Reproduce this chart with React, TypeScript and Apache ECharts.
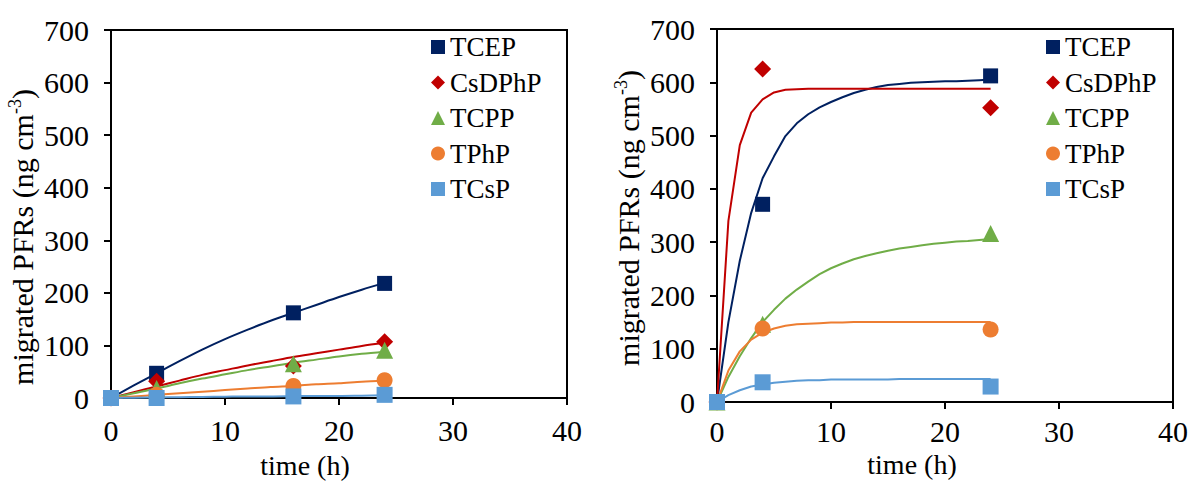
import React, { useEffect, useRef } from "react";
import * as echarts from "echarts";

const names = ["TCEP", "CsDPhP", "TCPP", "TPhP", "TCsP"];
const colors = ["#002060", "#C00000", "#70AD47", "#ED7D31", "#5B9BD5"];
const symbols = ["rect", "diamond", "triangle", "circle", "rect"];
const symbolSizes = [15, 17, 17, 16, 16];

// Left panel: measured values
const leftTimes = [0, 4, 16, 24];
const leftTCEP = [0, 47, 162, 218];
const leftCsDPhP = [0, 32, 61, 107];
const leftTCPP = [-2, 18, 65, 91];
const leftTPhP = [0, 6, 23, 34];
const leftTCsP = [0, 0, 3, 6];

// Left panel: fitted curves
const leftFitTimes = [0, 2, 4, 6, 8, 10, 12, 14, 16, 18, 20, 22, 24];
const leftFitTCEP = [0, 24, 47, 70, 92, 112, 130, 147, 162, 177, 192, 206, 219];
const leftFitCsDPhP = [0, 11, 22, 33, 44, 53, 62, 70, 78, 85, 92, 99, 105];
const leftFitTCPP = [0, 9, 18, 28, 37, 45, 53, 60, 67, 73, 79, 84, 88];
const leftFitTPhP = [0, 3, 6, 9, 12, 15, 18, 21, 23, 26, 28, 31, 33];
const leftFitTCsP = [0, 0.5, 1, 1.5, 2, 2.5, 3, 3, 3.5, 4, 4, 4.5, 5];

// Right panel: measured values
const rightTimes = [0, 4, 24];
const rightTCEP = [0, 371, 612];
const rightCsDPhP = [0, 625, 552];
const rightTCPP = [0, 146, 316];
const rightTPhP = [0, 138, 136];
const rightTCsP = [0, 37, 29];

// Right panel: fitted curves (hourly)
const rightFitTimes = [0, 1, 2, 3, 4, 5, 6, 7, 8, 9, 10, 11, 12, 13, 14, 15, 16, 17, 18, 19, 20, 21, 22, 23, 24];
const rightFitTCEP = [0, 150, 265, 355, 420, 461, 499, 523, 540, 553, 563, 572, 580, 586, 591, 595, 597, 599, 600, 601, 602, 602, 603, 604, 605];
const rightFitCsDPhP = [0, 340, 482, 543, 568, 581, 586, 587, 588, 588, 588, 588, 588, 588, 588, 588, 588, 588, 588, 588, 588, 588, 588, 588, 588];
const rightFitTCPP = [0, 47, 86, 120, 150, 173, 194, 211, 226, 240, 251, 260, 268, 274, 279, 284, 288, 291, 294, 297, 299, 301, 302, 304, 306];
const rightFitTPhP = [0, 59, 95, 117, 130, 138, 143, 146, 147, 148, 149, 149, 150, 150, 150, 150, 150, 150, 150, 150, 150, 150, 150, 150, 150];
const rightFitTCsP = [0, 13, 22, 29, 33, 36, 38, 40, 41, 41, 42, 42, 42, 42, 42, 42, 43, 43, 43, 43, 43, 43, 43, 43, 43];

const leftPts = [leftTCEP, leftCsDPhP, leftTCPP, leftTPhP, leftTCsP];
const leftFits = [leftFitTCEP, leftFitCsDPhP, leftFitTCPP, leftFitTPhP, leftFitTCsP];
const rightPts = [rightTCEP, rightCsDPhP, rightTCPP, rightTPhP, rightTCsP];
const rightFits = [rightFitTCEP, rightFitCsDPhP, rightFitTCPP, rightFitTPhP, rightFitTCsP];

const FONT = "Liberation Serif";

function zip(xs: number[], ys: number[]) {
  return xs.map((x, i) => [x, ys[i]]);
}

export default function App() {
  const ref = useRef<HTMLDivElement>(null);
  useEffect(() => {
    document.body.style.margin = "0";
    if (!ref.current) return;
    const chart = echarts.init(ref.current, undefined, { renderer: "svg" });

    const grids = [
      { left: 111, top: 30, width: 456, height: 368 },
      { left: 717, top: 29, width: 456, height: 373 },
    ].map((g) => ({ ...g, show: true, borderColor: "#000", borderWidth: 2, backgroundColor: "transparent" }));

    const axisCommon = {
      axisLine: { show: true, onZero: false, lineStyle: { color: "#000", width: 2 } },
      axisTick: { show: true, inside: false, length: 7, lineStyle: { color: "#000", width: 2 } },
      splitLine: { show: false },
    };

    const xAxes = [0, 1].map((i) => ({
      type: "value",
      gridIndex: i,
      min: 0,
      max: 40,
      interval: 10,
      ...axisCommon,
      axisLabel: { color: "#000", fontFamily: FONT, fontSize: 30, margin: i === 0 ? 17 : 14 },
    }));
    const yAxes = [0, 1].map((i) => ({
      type: "value",
      gridIndex: i,
      min: 0,
      max: 700,
      interval: 100,
      ...axisCommon,
      axisLabel: { color: "#000", fontFamily: FONT, fontSize: 30, margin: 22 },
    }));

    const series: any[] = [];
    [0, 1].forEach((g) => {
      const fits = g === 0 ? leftFits : rightFits;
      const fitT = g === 0 ? leftFitTimes : rightFitTimes;
      names.forEach((n, k) => {
        series.push({
          name: n + " fit",
          type: "line",
          xAxisIndex: g,
          yAxisIndex: g,
          data: zip(fitT, fits[k]),
          showSymbol: false,
          symbol: "none",
          smooth: g === 0 ? 0.3 : false,
          lineStyle: { color: colors[k], width: 2 },
          z: 2,
        });
      });
    });
    [0, 1].forEach((g) => {
      const pts = g === 0 ? leftPts : rightPts;
      const t = g === 0 ? leftTimes : rightTimes;
      names.forEach((n, k) => {
        series.push({
          name: n,
          type: "scatter",
          xAxisIndex: g,
          yAxisIndex: g,
          data: zip(t, pts[k]),
          symbol: symbols[k],
          symbolSize: symbolSizes[k],
          itemStyle: { color: colors[k], opacity: 1 },
          z: 3,
        });
      });
    });

    const legendData = names.map((n, k) => ({ name: n, icon: symbols[k] }));
    const legendCommon = {
      orient: "vertical",
      data: legendData,
      itemWidth: 14,
      itemHeight: 14,
      itemGap: 7.5,
      selectedMode: false,
      textStyle: { color: "#000", fontFamily: FONT, fontSize: 27, lineHeight: 28 },
    };

    const yTitle = (x: number, y: number) => ({
      type: "text",
      x,
      y,
      rotation: Math.PI / 2,
      style: {
        text: "{a|migrated PFRs (ng cm}{s|-3}{a|)}",
        align: "center",
        verticalAlign: "middle",
        fill: "#000",
        rich: {
          a: { fontFamily: FONT, fontSize: 30, color: "#000", lineHeight: 32 },
          s: { fontFamily: FONT, fontSize: 18, color: "#000", verticalAlign: "top", lineHeight: 32 },
        },
      },
    });
    const xTitle = (x: number, y: number) => ({
      type: "text",
      x,
      y,
      style: {
        text: "time (h)",
        align: "center",
        verticalAlign: "middle",
        fill: "#000",
        fontFamily: FONT,
        fontSize: 28,
      },
    });

    chart.setOption({
      animation: false,
      backgroundColor: "#fff",
      grid: grids,
      xAxis: xAxes,
      yAxis: yAxes,
      legend: [
        { ...legendCommon, left: 426, top: 28 },
        { ...legendCommon, left: 1041, top: 28 },
      ],
      graphic: [yTitle(22, 237), yTitle(628, 218), xTitle(305, 465), xTitle(912, 464)],
      series,
    });
    return () => chart.dispose();
  }, []);
  return <div ref={ref} style={{ width: 1191, height: 482 }} />;
}
